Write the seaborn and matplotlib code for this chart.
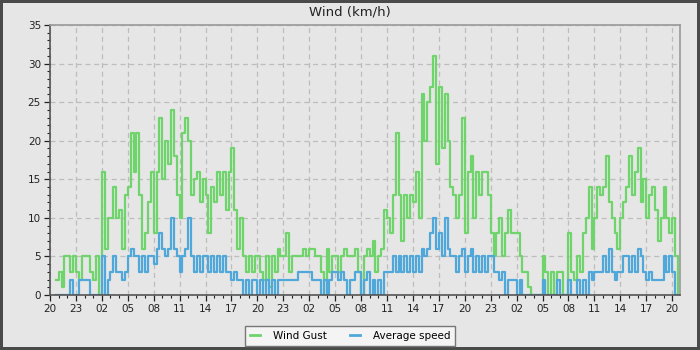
import numpy as np
import pandas as pd
import matplotlib
matplotlib.use('Agg')
import matplotlib.pyplot as plt
import matplotlib.dates as mdates
from matplotlib.lines import Line2D
import seaborn as sns

# 20-minute steps, starting 20:00 on day 1 (three values per hour)
START = '2024-05-01 20:00'
STEP = '20min'

gust = [
    np.nan, np.nan, 2,  3, 1, 5,  5, 3, 5,  3, 2, 5,  5, 5, 3,  2, 5, 0,      # 20-01
    16, 6, 10,  10, 14, 10,  11, 6, 13,  14, 21, 16,  21, 13, 6,  8, 12, 16,  # 02-07
    8, 16, 23,  15, 20, 17,  24, 18, 13,  10, 21, 23,  20, 13, 15,  16, 12, 15,  # 08-13
    13, 8, 14,  12, 16, 13,  16, 11, 16,  19, 11, 6,  10, 5, 3,  5, 3, 5,    # 14-19
    5, 3, 2,  5, 1, 5,  3, 6, 5,  5, 8, 3,  5, 5, 5,  5, 6, 5,                # 20-01
    6, 6, 5,  5, 3, 0,  6, 3, 5,  5, 3, 5,  6, 5, 5,  5, 6, 3,                # 02-07
    0, 5, 6,  5, 7, 3,  5, 6, 11,  10, 8, 13,  21, 13, 7,  13, 10, 13,        # 08-13
    12, 16, 10,  26, 20, 25,  27, 31, 17,  27, 19, 26,  20, 14, 13,  10, 13, 23,  # 14-19
    8, 16, 18,  10, 16, 13,  16, 16, 13,  8, 5, 8,  10, 5, 8,  11, 8, 8,      # 20-01
    8, 5, 3,  3, 1, 0,  0, 0, 0,  5, 3, 0,  3, 0, 3,  3, 0, 0,                # 02-07
    8, 3, 2,  5, 3, 8,  10, 14, 6,  10, 14, 13,  14, 18, 12,  10, 8, 6,       # 08-13
    10, 12, 14,  18, 13, 16,  19, 12, 15,  10, 13, 14,  11, 7, 10,  14, 10, 8,  # 14-19
    10, 5, 0,                                                                 # 20
]

avg = [
    np.nan, np.nan, 0,  0, 0, 0,  0, 2, 0,  0, 2, 2,  2, 2, 0,  0, 0, 0,
    5, 0, 2,  3, 5, 3,  3, 2, 3,  5, 6, 5,  5, 3, 5,  3, 5, 5,
    4, 6, 8,  6, 5, 6,  10, 6, 5,  3, 5, 6,  10, 5, 3,  5, 3, 5,
    5, 3, 5,  3, 5, 3,  5, 3, 3,  2, 3, 2,  2, 0, 2,  0, 2, 2,
    0, 2, 0,  2, 0, 2,  0, 2, 2,  2, 2, 2,  2, 2, 3,  3, 3, 3,
    3, 2, 2,  2, 0, 2,  0, 2, 3,  3, 2, 3,  2, 0, 2,  2, 3, 3,
    0, 2, 3,  0, 2, 0,  2, 0, 3,  3, 3, 5,  3, 5, 3,  5, 3, 5,
    3, 5, 3,  6, 5, 6,  8, 10, 6,  8, 5, 10,  6, 5, 5,  3, 5, 6,
    3, 5, 6,  3, 5, 3,  5, 3, 5,  5, 3, 3,  2, 3, 0,  2, 2, 2,
    0, 2, 0,  0, 0, 0,  0, 0, 0,  2, 0, 0,  0, 0, 2,  0, 0, 0,
    2, 0, 0,  2, 0, 2,  0, 3, 2,  3, 3, 3,  5, 3, 6,  3, 2, 3,
    3, 5, 5,  3, 5, 3,  6, 5, 3,  2, 3, 2,  2, 2, 2,  5, 3, 5,
    3, 0, 0,
]

LABELS = ['Wind Gust', 'Average speed']
GREEN = '#6fd46c'
BLUE = '#4fa8d9'
BG = '#e6e6e6'

times = pd.date_range(START, periods=len(gust), freq=STEP)
df = pd.DataFrame({'time': times, 'gust': gust, 'avg': avg})

fig = plt.figure(figsize=(7, 3.5), dpi=100, facecolor=BG,
                 edgecolor='#4a4a4a', linewidth=3)
ax = fig.add_axes([0.0714, 0.157, 0.9, 0.7716])
ax.set_facecolor(BG)

sns.lineplot(data=df, x='time', y='gust', ax=ax, color=GREEN, lw=1.6,
             drawstyle='steps-post', legend=False)
sns.lineplot(data=df, x='time', y='avg', ax=ax, color=BLUE, lw=1.6,
             drawstyle='steps-post', legend=False)

ax.set_xlim(times[0], times[0] + pd.Timedelta(hours=72.9))
ax.set_ylim(0, 35)
ax.set_xlabel('')
ax.set_ylabel('')

ax.xaxis.set_major_locator(mdates.HourLocator(byhour=[2, 5, 8, 11, 14, 17, 20, 23]))
ax.xaxis.set_major_formatter(mdates.DateFormatter('%H'))
ax.xaxis.set_minor_locator(mdates.HourLocator())
ax.yaxis.set_major_locator(plt.MultipleLocator(5))
ax.yaxis.set_minor_locator(plt.MultipleLocator(1))

ax.grid(True, which='major', color='#bdbdbd', linestyle=(0, (4, 3)), linewidth=0.9)
ax.set_axisbelow(True)
ax.tick_params(which='major', length=4.5, width=0.9, labelsize=7.5, colors='#222')
ax.tick_params(which='minor', length=2.5, width=0.8, colors='#222')
ax.tick_params(axis='x', pad=2)
ax.tick_params(axis='y', pad=2)

for side in ['top', 'right']:
    ax.spines[side].set_color('#999999')
for side in ['left', 'bottom']:
    ax.spines[side].set_color('#555555')
for sp in ax.spines.values():
    sp.set_linewidth(1.2)

fig.text(0.5, 0.966, 'Wind (km/h)', ha='center', va='center', fontsize=9.5, color='#222')

handles = [Line2D([], [], color=GREEN, lw=2), Line2D([], [], color=BLUE, lw=2)]
leg = fig.legend(handles, LABELS, loc='center', bbox_to_anchor=(0.5, 0.04), ncol=2,
                 frameon=True, fancybox=False, edgecolor='#777777', facecolor='#f4f4f4',
                 fontsize=7.5, handlelength=1.0, handletextpad=1.2, columnspacing=2.2,
                 borderpad=0.5)
leg.get_frame().set_linewidth(1.0)
leg.get_frame().set_alpha(1)

fig.savefig('out.png', dpi=100, facecolor=fig.get_facecolor(), edgecolor=fig.get_edgecolor())
